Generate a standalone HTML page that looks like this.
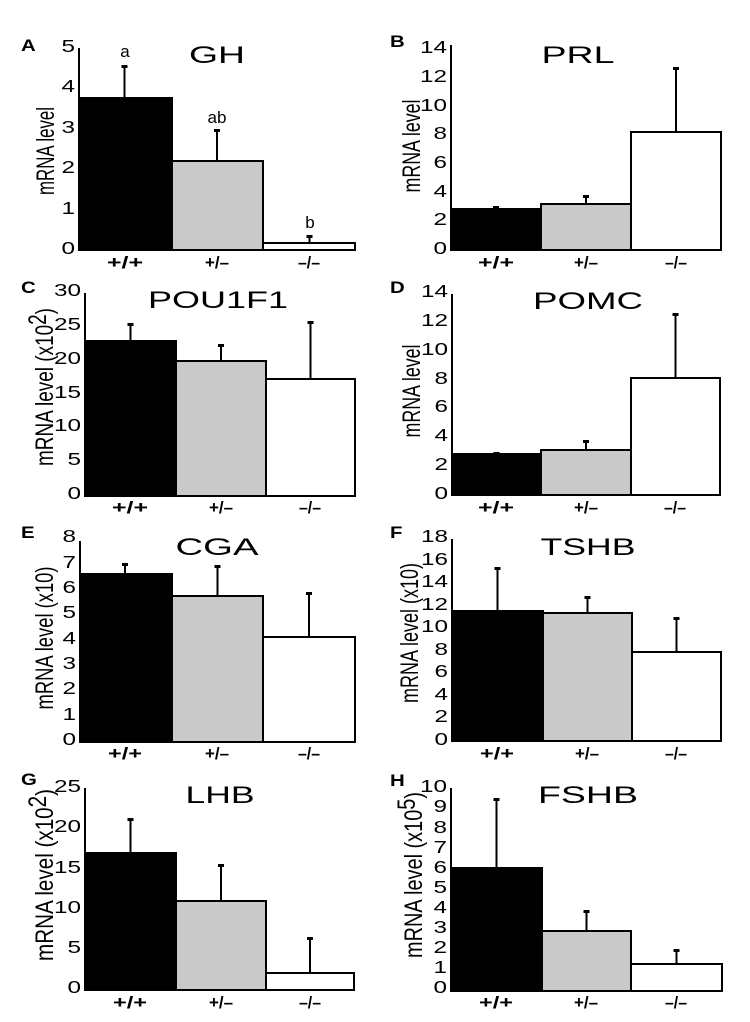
<!DOCTYPE html>
<html><head><meta charset="utf-8"><style>
html,body{margin:0;padding:0;background:#fff;}
svg{display:block;}
text{font-family:"Liberation Sans",Arial,sans-serif;fill:#000;}
.ax{stroke:#000;stroke-width:2;fill:none;}
.bk{fill:#000;stroke:#000;stroke-width:2;}
.gr{fill:#c9c9c9;stroke:#000;stroke-width:2;}
.wh{fill:#fff;stroke:#000;stroke-width:2;}
.eb{stroke:#000;stroke-width:2;}
.tk{font-size:18px;text-anchor:end;}
.xl{font-size:17px;text-anchor:middle;font-weight:bold;}
.tt{font-size:24px;text-anchor:middle;}
.yl{font-size:18px;text-anchor:middle;}
.pl{font-size:17px;font-weight:bold;}
</style></head><body>
<svg width="750" height="1022" viewBox="0 0 750 1022" xmlns="http://www.w3.org/2000/svg">

<!-- ============ Panel A ============ -->
<text class="pl" transform="translate(21,51) scale(1.2,1)">A</text>
<text class="tt" x="217" y="63" textLength="56" lengthAdjust="spacingAndGlyphs">GH</text>
<text class="yl" transform="translate(54,151) scale(1.4,1) rotate(-90)" textLength="88" lengthAdjust="spacingAndGlyphs">mRNA level</text>
<g class="tk">
<text transform="translate(75,52) scale(1.35,1)">5</text>
<text transform="translate(75,92) scale(1.35,1)">4</text>
<text transform="translate(75,133) scale(1.35,1)">3</text>
<text transform="translate(75,173) scale(1.35,1)">2</text>
<text transform="translate(75,214) scale(1.35,1)">1</text>
<text transform="translate(75,254) scale(1.35,1)">0</text>
</g>
<rect class="bk" x="79" y="98" width="93" height="152"/>
<rect class="gr" x="172" y="161" width="91" height="89"/>
<rect class="wh" x="263" y="243" width="92" height="7"/>
<line class="ax" x1="79" y1="48" x2="79" y2="251"/>
<line class="eb" x1="124.5" y1="98" x2="124.5" y2="66"/><rect x="121.5" y="65" width="6" height="3"/>
<line class="eb" x1="217" y1="161" x2="217" y2="130"/><rect x="214" y="129" width="6" height="3"/>
<line class="eb" x1="309.5" y1="243" x2="309.5" y2="236"/><rect x="306.5" y="235" width="6" height="3"/>
<text font-size="17" text-anchor="middle" x="125" y="57">a</text>
<text font-size="17" text-anchor="middle" x="217" y="123">ab</text>
<text font-size="17" text-anchor="middle" x="310" y="228">b</text>
<g class="xl">
<text x="125" y="268" textLength="36" lengthAdjust="spacingAndGlyphs">+/+</text>
<text x="217" y="268" textLength="24" lengthAdjust="spacingAndGlyphs">+/–</text>
<text x="309" y="268" textLength="22" lengthAdjust="spacingAndGlyphs">–/–</text>
</g>

<!-- ============ Panel B ============ -->
<text class="pl" transform="translate(390,47) scale(1.2,1)">B</text>
<text class="tt" x="578" y="63" textLength="73" lengthAdjust="spacingAndGlyphs">PRL</text>
<text class="yl" transform="translate(420,146) scale(1.4,1) rotate(-90)" textLength="93" lengthAdjust="spacingAndGlyphs">mRNA level</text>
<g class="tk">
<text transform="translate(447,53) scale(1.35,1)">14</text>
<text transform="translate(447,82) scale(1.35,1)">12</text>
<text transform="translate(447,111) scale(1.35,1)">10</text>
<text transform="translate(447,139) scale(1.35,1)">8</text>
<text transform="translate(447,168) scale(1.35,1)">6</text>
<text transform="translate(447,197) scale(1.35,1)">4</text>
<text transform="translate(447,225) scale(1.35,1)">2</text>
<text transform="translate(447,254) scale(1.35,1)">0</text>
</g>
<rect class="bk" x="451" y="209" width="90" height="41"/>
<rect class="gr" x="541" y="204" width="90" height="46"/>
<rect class="wh" x="631" y="132" width="90" height="118"/>
<line class="ax" x1="451" y1="45" x2="451" y2="251"/>
<rect x="493" y="206" width="6" height="3"/>
<line class="eb" x1="586" y1="204" x2="586" y2="196"/><rect x="583" y="195" width="6" height="3"/>
<line class="eb" x1="676" y1="132" x2="676" y2="68"/><rect x="673" y="67" width="6" height="3"/>
<g class="xl">
<text x="496" y="268" textLength="36" lengthAdjust="spacingAndGlyphs">+/+</text>
<text x="586" y="268" textLength="24" lengthAdjust="spacingAndGlyphs">+/–</text>
<text x="676" y="268" textLength="22" lengthAdjust="spacingAndGlyphs">–/–</text>
</g>

<!-- ============ Panel C ============ -->
<text class="pl" transform="translate(21,293) scale(1.2,1)">C</text>
<text class="tt" x="218" y="308" textLength="140" lengthAdjust="spacingAndGlyphs">POU1F1</text>
<text class="yl" transform="translate(53,387) scale(1.4,1) rotate(-90)" textLength="158" lengthAdjust="spacingAndGlyphs">mRNA level (x10<tspan dy="-5">2</tspan><tspan dy="5">)</tspan></text>
<g class="tk">
<text transform="translate(81,296) scale(1.35,1)">30</text>
<text transform="translate(81,330) scale(1.35,1)">25</text>
<text transform="translate(81,364) scale(1.35,1)">20</text>
<text transform="translate(81,398) scale(1.35,1)">15</text>
<text transform="translate(81,431) scale(1.35,1)">10</text>
<text transform="translate(81,465) scale(1.35,1)">5</text>
<text transform="translate(81,499) scale(1.35,1)">0</text>
</g>
<rect class="bk" x="85" y="341" width="91" height="155"/>
<rect class="gr" x="176" y="361" width="90" height="135"/>
<rect class="wh" x="266" y="379" width="89" height="117"/>
<line class="ax" x1="85" y1="293" x2="85" y2="497"/>
<line class="eb" x1="130.5" y1="341" x2="130.5" y2="324"/><rect x="127.5" y="323" width="6" height="3"/>
<line class="eb" x1="221" y1="361" x2="221" y2="345"/><rect x="218" y="344" width="6" height="3"/>
<line class="eb" x1="310.5" y1="379" x2="310.5" y2="322"/><rect x="307.5" y="321" width="6" height="3"/>
<g class="xl">
<text x="130" y="513" textLength="36" lengthAdjust="spacingAndGlyphs">+/+</text>
<text x="221" y="513" textLength="24" lengthAdjust="spacingAndGlyphs">+/–</text>
<text x="310" y="513" textLength="22" lengthAdjust="spacingAndGlyphs">–/–</text>
</g>

<!-- ============ Panel D ============ -->
<text class="pl" transform="translate(390,293) scale(1.2,1)">D</text>
<text class="tt" x="588" y="309" textLength="110" lengthAdjust="spacingAndGlyphs">POMC</text>
<text class="yl" transform="translate(420,391) scale(1.4,1) rotate(-90)" textLength="93" lengthAdjust="spacingAndGlyphs">mRNA level</text>
<g class="tk">
<text transform="translate(448,297) scale(1.35,1)">14</text>
<text transform="translate(448,326) scale(1.35,1)">12</text>
<text transform="translate(448,355) scale(1.35,1)">10</text>
<text transform="translate(448,384) scale(1.35,1)">8</text>
<text transform="translate(448,412) scale(1.35,1)">6</text>
<text transform="translate(448,441) scale(1.35,1)">4</text>
<text transform="translate(448,470) scale(1.35,1)">2</text>
<text transform="translate(448,499) scale(1.35,1)">0</text>
</g>
<rect class="bk" x="452" y="454" width="89" height="41"/>
<rect class="gr" x="541" y="450" width="90" height="45"/>
<rect class="wh" x="631" y="378" width="89" height="117"/>
<line class="ax" x1="452" y1="294" x2="452" y2="496"/>
<rect x="493.5" y="452" width="6" height="3"/>
<line class="eb" x1="586" y1="450" x2="586" y2="441"/><rect x="583" y="440" width="6" height="3"/>
<line class="eb" x1="675.5" y1="378" x2="675.5" y2="314"/><rect x="672.5" y="313" width="6" height="3"/>
<g class="xl">
<text x="496" y="513" textLength="36" lengthAdjust="spacingAndGlyphs">+/+</text>
<text x="586" y="513" textLength="24" lengthAdjust="spacingAndGlyphs">+/–</text>
<text x="675" y="513" textLength="22" lengthAdjust="spacingAndGlyphs">–/–</text>
</g>

<!-- ============ Panel E ============ -->
<text class="pl" transform="translate(21,538) scale(1.2,1)">E</text>
<text class="tt" x="217" y="555" textLength="83" lengthAdjust="spacingAndGlyphs">CGA</text>
<text class="yl" transform="translate(53,638) scale(1.4,1) rotate(-90)" textLength="143" lengthAdjust="spacingAndGlyphs">mRNA level (x10)</text>
<g class="tk">
<text transform="translate(76,542) scale(1.35,1)">8</text>
<text transform="translate(76,568) scale(1.35,1)">7</text>
<text transform="translate(76,593) scale(1.35,1)">6</text>
<text transform="translate(76,618) scale(1.35,1)">5</text>
<text transform="translate(76,644) scale(1.35,1)">4</text>
<text transform="translate(76,669) scale(1.35,1)">3</text>
<text transform="translate(76,694) scale(1.35,1)">2</text>
<text transform="translate(76,720) scale(1.35,1)">1</text>
<text transform="translate(76,745) scale(1.35,1)">0</text>
</g>
<rect class="bk" x="80" y="574" width="92" height="168"/>
<rect class="gr" x="172" y="596" width="91" height="146"/>
<rect class="wh" x="263" y="637" width="92" height="105"/>
<line class="ax" x1="80" y1="541" x2="80" y2="743"/>
<line class="eb" x1="125" y1="574" x2="125" y2="564"/><rect x="122" y="563" width="6" height="3"/>
<line class="eb" x1="217.5" y1="596" x2="217.5" y2="566"/><rect x="214.5" y="565" width="6" height="3"/>
<line class="eb" x1="309" y1="637" x2="309" y2="593"/><rect x="306" y="592" width="6" height="3"/>
<g class="xl">
<text x="125" y="759" textLength="34" lengthAdjust="spacingAndGlyphs">+/+</text>
<text x="217" y="759" textLength="24" lengthAdjust="spacingAndGlyphs">+/–</text>
<text x="309" y="759" textLength="22" lengthAdjust="spacingAndGlyphs">–/–</text>
</g>

<!-- ============ Panel F ============ -->
<text class="pl" transform="translate(390,538) scale(1.2,1)">F</text>
<text class="tt" x="588" y="555" textLength="95" lengthAdjust="spacingAndGlyphs">TSHB</text>
<text class="yl" transform="translate(418,633) scale(1.4,1) rotate(-90)" textLength="140" lengthAdjust="spacingAndGlyphs">mRNA level (x10)</text>
<g class="tk">
<text transform="translate(448,542) scale(1.35,1)">18</text>
<text transform="translate(448,565) scale(1.35,1)">16</text>
<text transform="translate(448,587) scale(1.35,1)">14</text>
<text transform="translate(448,610) scale(1.35,1)">12</text>
<text transform="translate(448,632) scale(1.35,1)">10</text>
<text transform="translate(448,655) scale(1.35,1)">8</text>
<text transform="translate(448,677) scale(1.35,1)">6</text>
<text transform="translate(448,700) scale(1.35,1)">4</text>
<text transform="translate(448,722) scale(1.35,1)">2</text>
<text transform="translate(448,745) scale(1.35,1)">0</text>
</g>
<rect class="bk" x="452" y="611" width="91" height="130"/>
<rect class="gr" x="543" y="613" width="89" height="128"/>
<rect class="wh" x="632" y="652" width="89" height="89"/>
<line class="ax" x1="452" y1="539" x2="452" y2="742"/>
<line class="eb" x1="497.5" y1="611" x2="497.5" y2="568"/><rect x="494.5" y="567" width="6" height="3"/>
<line class="eb" x1="587.5" y1="613" x2="587.5" y2="597"/><rect x="584.5" y="596" width="6" height="3"/>
<line class="eb" x1="676.5" y1="652" x2="676.5" y2="618"/><rect x="673.5" y="617" width="6" height="3"/>
<g class="xl">
<text x="497" y="759" textLength="34" lengthAdjust="spacingAndGlyphs">+/+</text>
<text x="587" y="759" textLength="24" lengthAdjust="spacingAndGlyphs">+/–</text>
<text x="676" y="759" textLength="22" lengthAdjust="spacingAndGlyphs">–/–</text>
</g>

<!-- ============ Panel G ============ -->
<text class="pl" transform="translate(21,785) scale(1.2,1)">G</text>
<text class="tt" x="220" y="803" textLength="69" lengthAdjust="spacingAndGlyphs">LHB</text>
<text class="yl" transform="translate(53,875) scale(1.4,1) rotate(-90)" textLength="172" lengthAdjust="spacingAndGlyphs">mRNA level (x10<tspan dy="-5">2</tspan><tspan dy="5">)</tspan></text>
<g class="tk">
<text transform="translate(81,792) scale(1.35,1)">25</text>
<text transform="translate(81,832) scale(1.35,1)">20</text>
<text transform="translate(81,873) scale(1.35,1)">15</text>
<text transform="translate(81,913) scale(1.35,1)">10</text>
<text transform="translate(81,953) scale(1.35,1)">5</text>
<text transform="translate(81,993) scale(1.35,1)">0</text>
</g>
<rect class="bk" x="85" y="853" width="91" height="137"/>
<rect class="gr" x="176" y="901" width="90" height="89"/>
<rect class="wh" x="266" y="973" width="88" height="17"/>
<line class="ax" x1="85" y1="788" x2="85" y2="991"/>
<line class="eb" x1="130.5" y1="853" x2="130.5" y2="819"/><rect x="127.5" y="818" width="6" height="3"/>
<line class="eb" x1="221" y1="901" x2="221" y2="865"/><rect x="218" y="864" width="6" height="3"/>
<line class="eb" x1="310" y1="973" x2="310" y2="938"/><rect x="307" y="937" width="6" height="3"/>
<g class="xl">
<text x="130" y="1008" textLength="34" lengthAdjust="spacingAndGlyphs">+/+</text>
<text x="221" y="1008" textLength="24" lengthAdjust="spacingAndGlyphs">+/–</text>
<text x="310" y="1008" textLength="22" lengthAdjust="spacingAndGlyphs">–/–</text>
</g>

<!-- ============ Panel H ============ -->
<text class="pl" transform="translate(390,786) scale(1.2,1)">H</text>
<text class="tt" x="588" y="803" textLength="100" lengthAdjust="spacingAndGlyphs">FSHB</text>
<text class="yl" transform="translate(422,875) scale(1.4,1) rotate(-90)" textLength="166" lengthAdjust="spacingAndGlyphs">mRNA level (x10<tspan dy="-5">5</tspan><tspan dy="5">)</tspan></text>
<g class="tk">
<text transform="translate(447,792) scale(1.35,1)">10</text>
<text transform="translate(447,812) scale(1.35,1)">9</text>
<text transform="translate(447,833) scale(1.35,1)">8</text>
<text transform="translate(447,853) scale(1.35,1)">7</text>
<text transform="translate(447,873) scale(1.35,1)">6</text>
<text transform="translate(447,893) scale(1.35,1)">5</text>
<text transform="translate(447,913) scale(1.35,1)">4</text>
<text transform="translate(447,933) scale(1.35,1)">3</text>
<text transform="translate(447,953) scale(1.35,1)">2</text>
<text transform="translate(447,973) scale(1.35,1)">1</text>
<text transform="translate(447,993) scale(1.35,1)">0</text>
</g>
<rect class="bk" x="451" y="868" width="91" height="123"/>
<rect class="gr" x="542" y="931" width="89" height="60"/>
<rect class="wh" x="631" y="964" width="91" height="27"/>
<line class="ax" x1="451" y1="788" x2="451" y2="992"/>
<line class="eb" x1="496.5" y1="868" x2="496.5" y2="799"/><rect x="493.5" y="798" width="6" height="3"/>
<line class="eb" x1="586.5" y1="931" x2="586.5" y2="911"/><rect x="583.5" y="910" width="6" height="3"/>
<line class="eb" x1="676.5" y1="964" x2="676.5" y2="950"/><rect x="673.5" y="949" width="6" height="3"/>
<g class="xl">
<text x="496" y="1008" textLength="34" lengthAdjust="spacingAndGlyphs">+/+</text>
<text x="586" y="1008" textLength="24" lengthAdjust="spacingAndGlyphs">+/–</text>
<text x="676" y="1008" textLength="22" lengthAdjust="spacingAndGlyphs">–/–</text>
</g>

</svg>
</body></html>
